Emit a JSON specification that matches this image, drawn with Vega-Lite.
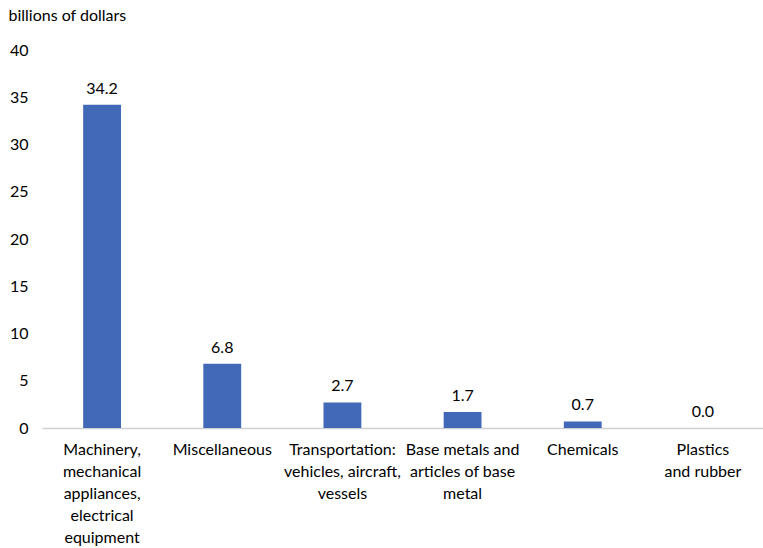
{
  "$schema": "https://vega.github.io/schema/vega-lite/v6.json",
  "autosize": "none",
  "width": 721,
  "height": 378,
  "padding": {"left": 42, "top": 50, "right": 0, "bottom": 120},
  "background": "white",
  "config": {"view": {"stroke": null}, "font": "Lato"},
  "data": {
    "values": [
      {"category": "Machinery,|mechanical|appliances,|electrical|equipment", "value": 34.2, "order": 1},
      {"category": "Miscellaneous", "value": 6.8, "order": 2},
      {"category": "Transportation:|vehicles, aircraft,|vessels", "value": 2.7, "order": 3},
      {"category": "Base metals and|articles of base|metal", "value": 1.7, "order": 4},
      {"category": "Chemicals", "value": 0.7, "order": 5},
      {"category": "Plastics|and rubber", "value": 0.0, "order": 6}
    ]
  },
  "encoding": {
    "x": {
      "field": "category",
      "type": "nominal",
      "sort": {"field": "order"},
      "scale": {"paddingInner": 0.685, "paddingOuter": 0.3425},
      "axis": {
        "title": null,
        "labelAngle": 0,
        "labelExpr": "split(datum.label, '|')",
        "labelFont": "Lato",
        "labelFontSize": 16,
        "labelColor": "#000000",
        "labelLineHeight": 22,
        "labelPadding": 13,
        "labelLimit": 200,
        "ticks": false,
        "domainColor": "#d0d0d0",
        "domainWidth": 1.5
      }
    },
    "y": {
      "field": "value",
      "type": "quantitative",
      "scale": {"domain": [0, 40]},
      "axis": {
        "values": [0, 5, 10, 15, 20, 25, 30, 35, 40],
        "grid": false,
        "domain": false,
        "ticks": false,
        "labelPadding": 14,
        "labelFont": "Lato",
        "labelFontSize": 16,
        "labelColor": "#000000",
        "title": "billions of dollars",
        "titleAngle": 0,
        "titleAlign": "left",
        "titleBaseline": "middle",
        "titleX": -34,
        "titleY": -35,
        "titleFont": "Lato",
        "titleFontSize": 16,
        "titleFontWeight": "normal",
        "titleColor": "#000000"
      }
    }
  },
  "layer": [
    {"mark": {"type": "bar", "color": "#4169b8"}},
    {
      "mark": {"type": "text", "baseline": "bottom", "dy": -8, "font": "Lato", "fontSize": 16, "color": "#000000"},
      "encoding": {"text": {"field": "value", "type": "quantitative", "format": ".1f"}}
    }
  ]
}
